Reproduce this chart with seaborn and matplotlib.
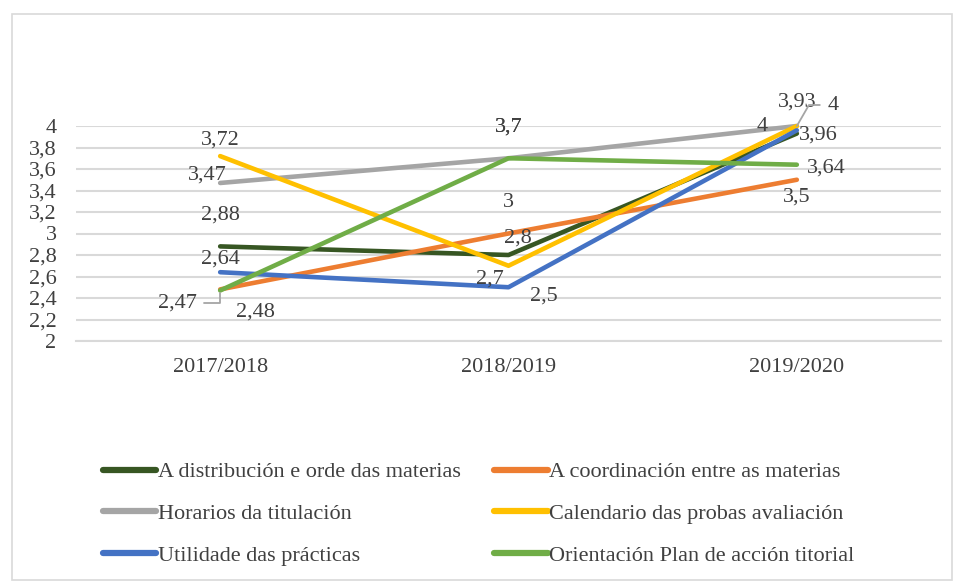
import numpy as np
import pandas as pd
import matplotlib
matplotlib.use("Agg")
import matplotlib.pyplot as plt
import seaborn as sns
from matplotlib.lines import Line2D
from matplotlib.patches import Rectangle

sns.set_theme(style="white")
plt.rcParams["font.family"] = ["Liberation Serif", "DejaVu Serif"]

# Data
cursos = ["2017/2018", "2018/2019", "2019/2020"]
series = [
    "A distribución e orde das materias",
    "A coordinación entre as materias",
    "Horarios da titulación",
    "Calendario das probas avaliación",
    "Utilidade das prácticas",
    "Orientación Plan de acción titorial",
]
distribucion = [2.88, 2.8, 3.93]
coordinacion = [2.48, 3.0, 3.5]
horarios = [3.47, 3.7, 4.0]
calendario = [3.72, 2.7, 4.0]
utilidade = [2.64, 2.5, 3.96]
orientacion = [2.47, 3.7, 3.64]
colores = ["#375623", "#ED7D31", "#A5A5A5", "#FFC000", "#4472C4", "#70AD47"]

valores = [distribucion, coordinacion, horarios, calendario, utilidade, orientacion]
df = pd.DataFrame(
    [(s, c, v) for s, vals in zip(series, valores) for c, v in zip(cursos, vals)],
    columns=["serie", "curso", "valor"],
)

# label offsets in pixels (dx, dy) per series and year
offsets = {
    series[0]: [(0, 31), (9, 17), (0, 31)],
    series[1]: [(35, -23), (0, 31), (0, -17)],
    series[2]: [(-13, 8), (0, 31), (-35, 0)],
    series[3]: [(0, 16), (-19, -13), None],
    series[4]: [(0, 13), (35, -9), (21, -5)],
    series[5]: [None, (0, 31), (29, -3)],
}
text_color = "#404040"
fs = 16

fig = plt.figure(figsize=(9.55, 5.82), dpi=100)
ax = fig.add_axes([76 / 955, 1 - 341 / 582, 865 / 955, 215 / 582])

sns.lineplot(data=df, x="curso", y="valor", hue="serie", palette=colores,
             linewidth=3.3, ax=ax, legend=False, sort=False)
for ln in ax.lines:
    ln.set_clip_on(False)
    ln.set_solid_capstyle("round")
    ln.set_solid_joinstyle("round")

ax.set_xlim(-0.5, 2.5)
ax.set_ylim(2, 4)
ax.set_yticks(np.arange(2, 4.01, 0.2))
ax.set_yticklabels([f"{t:g}".replace(".", ",") for t in np.arange(2, 4.01, 0.2)])
ax.yaxis.grid(True, color="#D9D9D9", linewidth=1.5)
ax.set_axisbelow(True)
for sp in ax.spines.values():
    sp.set_visible(False)
ax.spines["bottom"].set_visible(True)
ax.spines["bottom"].set_color("#D9D9D9")
ax.spines["bottom"].set_linewidth(1.5)
ax.set_xlabel("")
ax.set_ylabel("")
ax.tick_params(axis="both", length=0, labelsize=fs, labelcolor=text_color)
ax.tick_params(axis="y", pad=14)
ax.tick_params(axis="x", pad=12)

def fmt(v):
    return f"{v:g}".replace(".", ",")

for s, vals in zip(series, valores):
    for i, v in enumerate(vals):
        off = offsets[s][i]
        if off is None:
            continue
        ax.annotate(fmt(v), (i, v), xytext=off, textcoords="offset pixels",
                    ha="center", va="center", fontsize=fs, color=text_color,
                    annotation_clip=False)

# labels with leader lines
ax.annotate(fmt(orientacion[0]), (0, orientacion[0]), xytext=(-43, -13),
            textcoords="offset pixels", ha="center", va="center", fontsize=fs,
            color=text_color, annotation_clip=False,
            arrowprops=dict(arrowstyle="-", color="#A5A5A5", lw=1.3,
                            connectionstyle="angle,angleA=0,angleB=90,rad=0",
                            shrinkA=3, shrinkB=2))
ax.annotate(fmt(calendario[2]), (2, calendario[2]), xytext=(36, 21),
            textcoords="offset pixels", ha="center", va="center", fontsize=fs,
            color=text_color, annotation_clip=False,
            arrowprops=dict(arrowstyle="-", color="#A5A5A5", lw=1.3,
                            connectionstyle="angle,angleA=0,angleB=60,rad=0",
                            shrinkA=3, shrinkB=0))

handles = [Line2D([], [], color=c, linewidth=4.5) for c in colores]
order = [0, 2, 4, 1, 3, 5]
fig.legend([handles[i] for i in order], [series[i] for i in order],
           loc="upper left", bbox_to_anchor=(94 / 955, 1 - 453 / 582),
           ncol=2, frameon=False, fontsize=fs, labelcolor=text_color,
           handlelength=2.4, handletextpad=0.08, columnspacing=1.5,
           labelspacing=0.95, borderaxespad=0)

fig.patches.append(Rectangle((12 / 955, 2 / 582), 940 / 955, 566 / 582,
                             transform=fig.transFigure, fill=False,
                             edgecolor="#D9D9D9", linewidth=1.2))

fig.savefig("out.png", dpi=100)
